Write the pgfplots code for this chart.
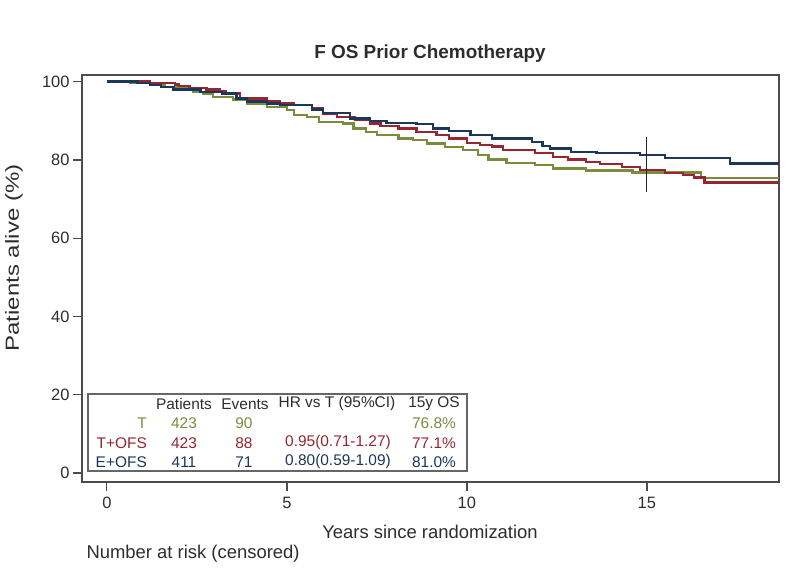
\documentclass[border=0pt]{standalone}
\usepackage{fontspec}
\setmainfont{Liberation Sans}
\usepackage{graphicx}
\usepackage{pgfplots}
\pgfplotsset{compat=1.18}
\definecolor{cT}{RGB}{122,140,62}
\definecolor{cTO}{RGB}{150,38,48}
\definecolor{cEO}{RGB}{28,55,90}
\definecolor{txt}{RGB}{45,45,45}
\newcommand{\pp}[2]{({(#1-82)*1bp},{(482-#2)*1bp})}
\newcommand{\fs}[1]{\fontsize{#1}{#1}\selectfont}
\begin{document}
\begin{tikzpicture}
\useasboundingbox \pp{0}{571} rectangle \pp{800}{0};
\begin{axis}[at={(0,0)}, anchor=south west, scale only axis,
  width=697bp, height=407bp,
  xmin=-0.69, xmax=18.67, ymin=-2.3, ymax=101.7,
  axis line style={draw=black!70, line width=1.3bp},
  xtick={0,5,10,15}, ytick={0,20,...,100},
  tick align=outside, xtick pos=bottom, ytick pos=left,
  major tick length=9bp,
  tick style={black!70, line width=1.3bp},
  tick label style={font=\fs{16.5}, text=txt},
  xticklabel style={yshift=-3bp},
  /pgf/number format/assume math mode=true,
  clip=false]
\addplot[const plot, cT, line width=2.3bp] coordinates {
(0,100) (0.64,99.7) (1.2,99.1) (1.6,98.6) (2.0,98.3) (2.4,97.4) (2.68,97.0) (2.95,96.1) (3.5,95.4) (3.9,94.4) (4.44,93.6) (5.0,92.7) (5.2,91.4) (5.55,91.0) (5.9,89.7) (6.56,89.3) (6.85,88.0) (7.2,87.2) (7.5,86.3) (8.1,85.5) (8.5,85.1) (8.9,84.2) (9.4,83.3) (9.9,82.5) (10.3,81.2) (10.6,80.1) (11.1,79.3) (11.9,78.7) (12.4,77.8) (13.3,77.3) (14.6,76.8) (16.5,75.4) (18.67,75.4)};
\addplot[const plot, cTO, line width=2.3bp] coordinates {
(0,100) (1.2,99.7) (1.9,99.3) (2.0,98.8) (2.3,98.4) (2.77,98.0) (3.14,97.6) (3.3,97.0) (3.7,95.7) (4.44,95.1) (4.8,94.6) (5.2,94.0) (5.7,93.1) (6.0,91.7) (6.4,91.0) (6.9,90.2) (7.3,89.3) (7.6,88.6) (8.1,88.0) (8.6,87.2) (9.16,86.3) (9.5,85.5) (10.0,84.4) (10.36,83.8) (10.7,83.4) (11.0,82.5) (11.9,81.7) (12.4,80.8) (12.8,80.1) (13.3,79.5) (13.7,78.9) (14.3,78.2) (14.8,77.4) (15.5,76.7) (16.0,76.1) (16.3,75.5) (16.6,74.2) (18.67,74.2)};
\addplot[const plot, cEO, line width=2.3bp] coordinates {
(0,100) (0.85,99.7) (1.2,99.1) (1.5,98.6) (1.85,98.0) (2.6,97.4) (3.2,97.0) (3.6,95.7) (3.9,94.9) (4.45,94.4) (4.8,94.0) (5.7,92.9) (6.0,91.9) (6.75,90.6) (7.3,89.9) (7.77,89.5) (8.6,89.1) (9.06,88.0) (9.5,87.4) (10.1,86.3) (10.7,85.5) (11.8,84.6) (12.1,83.5) (12.3,82.9) (12.9,82.1) (13.6,81.8) (14.8,81.2) (15.5,80.4) (17.3,79.1) (18.67,79.1)};
\addplot[black!85, line width=1.2bp] coordinates {(15,71.8) (15,85.8)};
\end{axis}
\node[font=\bfseries\fs{19}, text=txt] at \pp{430}{54} {F OS Prior Chemotherapy};
\node[font=\fs{18.5}, text=txt] at \pp{430}{532} {Years since randomization};
\node[rotate=90, text=txt] at \pp{14}{258} {\scalebox{1.27}[1]{\fs{19}Patients alive (\%)}};
\node[anchor=west, font=\fs{18.5}, text=txt] at \pp{83}{554} {Number at risk (censored)};
\draw[black!60, line width=1.2bp, fill=white] \pp{88}{394} rectangle \pp{467}{471};
\begin{scope}[every node/.style={font=\fs{15.5}, inner sep=0pt}]
\node[text=txt] at \pp{184}{404} {Patients};
\node[text=txt] at \pp{245}{404} {Events};
\node[text=txt] at \pp{337}{404} {HR vs T (95\%CI)};
\node[text=txt] at \pp{434}{404} {15y OS};
\node[text=cT, anchor=east] at \pp{147}{423} {T};
\node[text=cT] at \pp{184}{423} {423};
\node[text=cT] at \pp{244}{423} {90};
\node[text=cT] at \pp{434}{423} {76.8\%};
\node[text=cTO, anchor=east] at \pp{147}{443} {T+OFS};
\node[text=cTO] at \pp{184}{443} {423};
\node[text=cTO] at \pp{244}{443} {88};
\node[text=cTO] at \pp{338}{443} {0.95(0.71-1.27)};
\node[text=cTO] at \pp{434}{443} {77.1\%};
\node[text=cEO, anchor=east] at \pp{147}{462} {E+OFS};
\node[text=cEO] at \pp{184}{462} {411};
\node[text=cEO] at \pp{244}{462} {71};
\node[text=cEO] at \pp{338}{462} {0.80(0.59-1.09)};
\node[text=cEO] at \pp{434}{462} {81.0\%};
\end{scope}
\end{tikzpicture}
\end{document}
